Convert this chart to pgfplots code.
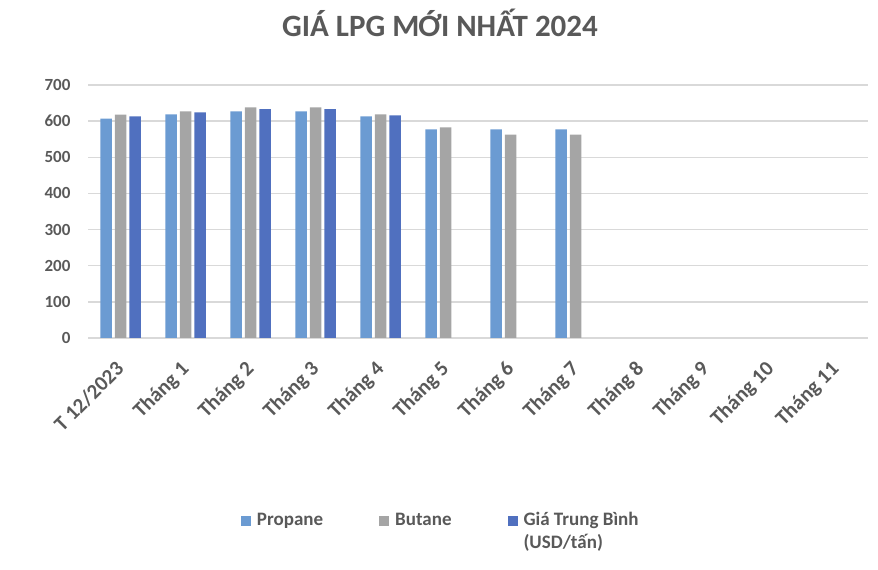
\documentclass[border=0pt]{standalone}
\usepackage{pgfplots}
\pgfplotsset{compat=1.18}
\usepackage{fontspec}
\setmainfont{Carlito}
\definecolor{txt}{HTML}{595959}
\definecolor{gridc}{HTML}{D9D9D9}
\definecolor{cprop}{HTML}{6B9BD2}
\definecolor{cbut}{HTML}{A5A5A5}
\definecolor{cavg}{HTML}{5070BF}
\begin{document}
\begin{tikzpicture}
\useasboundingbox (0,0) rectangle (878pt,570pt);
\begin{axis}[
  at={(88pt,232pt)}, anchor=south west,
  scale only axis, width=780pt, height=253pt,
  xmin=-0.5, xmax=11.5, ymin=0, ymax=700,
  ybar, bar width=11.5pt,
  xtick={0,...,11},
  xticklabels={T 12/2023,Tháng 1,Tháng 2,Tháng 3,Tháng 4,Tháng 5,Tháng 6,Tháng 7,Tháng 8,Tháng 9,Tháng 10,Tháng 11},
  xticklabel style={xshift=-6pt, yshift=-17pt, rotate=45, anchor=north east, font=\fontsize{21}{25}\selectfont\bfseries, text=txt},
  ytick={0,100,...,700},
  yticklabel style={font=\fontsize{17}{20}\selectfont\bfseries, text=txt, xshift=-14pt},
  /pgf/number format/assume math mode=true,
  ymajorgrids, grid style={draw=gridc, line width=1.3pt},
  axis line style={draw=none},
  axis x line*=bottom,
  x axis line style={draw=gridc, line width=1.3pt},
  major tick length=0pt,
  legend columns=3,
  legend style={draw=none, at={(0.192,-0.66)}, anchor=north west,
    font=\fontsize{19}{23}\selectfont\bfseries, text=txt,
    /tikz/every even column/.append style={column sep=54pt},
    /tikz/every odd column/.append style={column sep=4pt},
    cells={anchor=base west}},
  legend image code/.code={\fill[#1] (0pt,-1pt) rectangle (10pt,9pt);},
]
\addplot[fill=cprop, draw=none, bar shift=-14.5pt] coordinates {(0,607) (1,619) (2,627) (3,627) (4,613) (5,577) (6,577) (7,577)};
\addplot[fill=cbut, draw=none, bar shift=0pt] coordinates {(0,618) (1,627) (2,638) (3,638) (4,619) (5,583) (6,563) (7,563)};
\addplot[fill=cavg, draw=none, bar shift=14.5pt] coordinates {(0,613) (1,624) (2,633) (3,633) (4,616)};
\legend{Propane,Butane,{\begin{tabular}[t]{@{}l@{}}Giá Trung Bình\\(USD/tấn)\end{tabular}}}
\end{axis}
\node[text=txt, font=\fontsize{31}{37}\selectfont\bfseries] at (440pt,547pt) {GIÁ LPG MỚI NHẤT 2024};
\end{tikzpicture}
\end{document}
